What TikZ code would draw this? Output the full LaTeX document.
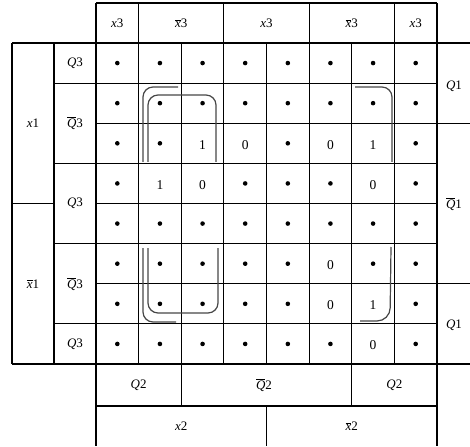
\documentclass[tikz,border=0pt]{standalone}
\usepackage{fontspec}
\setmainfont{Liberation Serif}
\newcommand\ovl[1]{\ensuremath{\overline{\hbox{\itshape #1}}}}
\begin{document}
\begin{tikzpicture}[x=1pt,y=-1pt,
  grid/.style={line width=1.2pt,black},
  curve/.style={line width=1.2pt,draw=black!72,rounded corners=10pt},
  lab/.style={inner sep=0pt,font=\fontsize{13}{15}\selectfont},
  num/.style={inner sep=0pt,font=\fontsize{13.5}{15}\selectfont},
  dotc/.style={circle,fill=black,inner sep=0pt,minimum size=4.6pt}]
\useasboundingbox (0,0) rectangle (470,446);
% header
\draw[grid] (96,3) -- (437,3);
\foreach \x in {96,138.625,223.875,309.125,394.375}
  \draw[grid] (\x,3) -- (\x,43);
% horizontal lines
\draw[grid] (12,43) -- (470,43);
\draw[grid] (54,83.125) -- (437,83.125);
\draw[grid] (96,123.25) -- (470,123.25);
\draw[grid] (54,163.375) -- (437,163.375);
\draw[grid] (12,203.5) -- (54,203.5);
\draw[grid] (96,203.5) -- (437,203.5);
\draw[grid] (54,243.625) -- (437,243.625);
\draw[grid] (96,283.75) -- (470,283.75);
\draw[grid] (54,323.875) -- (437,323.875);
\draw[grid] (12,364) -- (470,364);
\draw[grid] (96,406) -- (437,406);
% vertical lines
\draw[grid] (12,43) -- (12,364);
\draw[grid] (54,43) -- (54,364);
\foreach \k in {1,...,7}
  \draw[grid] ({96+42.625*\k},43) -- ({96+42.625*\k},364);
\draw[grid] (96,43) -- (96,446);
\draw[grid] (437,3) -- (437,446);
\draw[grid] (181.25,364) -- (181.25,406);
\draw[grid] (351.75,364) -- (351.75,406);
\draw[grid] (266.5,406) -- (266.5,446);
% cells
\foreach \row [count=\i] in {
  {d,d,d,d,d,d,d,d},
  {d,d,d,d,d,d,d,d},
  {d,d,1,0,d,0,1,d},
  {d,1,0,d,d,d,0,d},
  {d,d,d,d,d,d,d,d},
  {d,d,d,d,d,0,d,d},
  {d,d,d,d,d,0,1,d},
  {d,d,d,d,d,d,0,d}} {
  \foreach \v [count=\j] in \row {
    \if d\v
      \node[dotc] (c\i-\j) at ({96+42.625*(\j-0.5)},{43+40.125*(\i-0.5)}) {};
    \else
      \node[num] (c\i-\j) at ({96+42.625*(\j-0.5)},{43+40.125*(\i-0.5)+1.5}) {\v};
    \fi
  }
}
% top labels
\node[lab] (t1) at (117.3,23) {\textit{x}3};
\node[lab] (t2) at (181.25,23) {\ovl{x}3};
\node[lab] (t3) at (266.5,23) {\textit{x}3};
\node[lab] (t4) at (351.75,23) {\ovl{x}3};
\node[lab] (t5) at (415.7,23) {\textit{x}3};
% left labels
\node[lab] (l1) at (33,123.25) {\textit{x}1};
\node[lab] (l2) at (33,283.75) {\ovl{x}1};
\node[lab] (q1) at (75,63) {\textit{Q}3};
\node[lab] (q2) at (75,123.25) {\ovl{Q}3};
\node[lab] (q3) at (75,203.5) {\textit{Q}3};
\node[lab] (q4) at (75,283.75) {\ovl{Q}3};
\node[lab] (q5) at (75,344) {\textit{Q}3};
% right labels
\node[lab] (r1) at (454,86) {\textit{Q}1};
\node[lab] (r2) at (454,204) {\ovl{Q}1};
\node[lab] (r3) at (454,325) {\textit{Q}1};
% bottom labels
\node[lab] (b1) at (138.6,385) {\textit{Q}2};
\node[lab] (b2) at (264,385) {\ovl{Q}2};
\node[lab] (b3) at (394.4,385) {\textit{Q}2};
\node[lab] (b4) at (181.25,426) {\textit{x}2};
\node[lab] (b5) at (351.75,426) {\ovl{x}2};
% curves
\draw[curve] (178,87) -- (143,87) -- (143,162);
\draw[curve] (148,162) -- (148,95) -- (216,95) -- (216,162);
\draw[curve] (355,87) -- (392,87) -- (392,162);
\draw[curve] (143,248) -- (143,322) -- (176,322);
\draw[curve] (148,248) -- (148,313) -- (218,313) -- (218,248);
\draw[curve,rounded corners=13pt] (391,247) -- (390,321) -- (360,321);
\end{tikzpicture}
\end{document}
